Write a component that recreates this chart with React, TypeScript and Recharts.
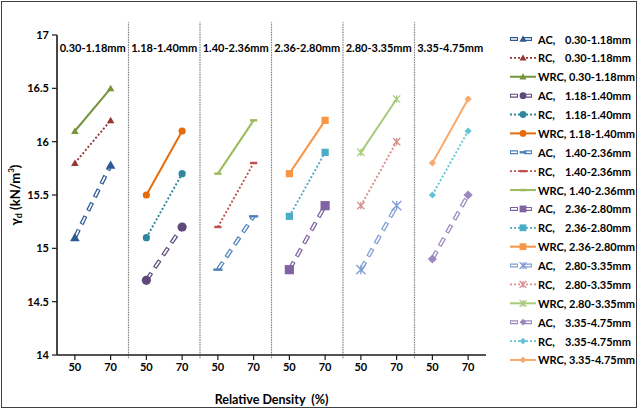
import React from 'react';
import { LineChart, Line, XAxis, YAxis, ReferenceLine, ReferenceArea, Legend, Label } from 'recharts';

const panels = ['0.30-1.18mm', '1.18-1.40mm', '1.40-2.36mm', '2.36-2.80mm', '2.80-3.35mm', '3.35-4.75mm'];
const densities = [50, 70];
const acValues = [[15.1, 15.78], [14.7, 15.2], [14.8, 15.3], [14.8, 15.4], [14.8, 15.4], [14.9, 15.5]];
const rcValues = [[15.8, 16.2], [15.1, 15.7], [15.2, 15.8], [15.3, 15.9], [15.4, 16.0], [15.5, 16.1]];
const wrcValues = [[16.1, 16.5], [15.5, 16.1], [15.7, 16.2], [15.7, 16.2], [15.9, 16.4], [15.8, 16.4]];
const yTicks = [14, 14.5, 15, 15.5, 16, 16.5, 17];

const acColors = ['#2E5A94', '#5F497A', '#4F81BD', '#8064A2', '#7F9CD3', '#9C87BF'];
const rcColors = ['#953735', '#31859C', '#C0504D', '#4BACC6', '#D58F8D', '#66C3D6'];
const wrcColors = ['#77933C', '#E46C0A', '#9BBB59', '#F79646', '#A9CB7D', '#F8A96E'];
const markers = ['triangle', 'circle', 'dash', 'square', 'star', 'diamond'];

const FONT = 'Lato, "Open Sans", sans-serif';

const kinds = [
  { key: 'ac', name: 'AC,', values: acValues, colors: acColors, size: 4.6 },
  { key: 'rc', name: 'RC,', values: rcValues, colors: rcColors, size: 3.6 },
  { key: 'wrc', name: 'WRC,', values: wrcValues, colors: wrcColors, size: 3.6 },
];

const xTicks = panels.flatMap((_, p) => densities.map((_, j) => p * 2 + j));

const data = xTicks.map((i) => {
  const p = Math.floor(i / 2);
  const j = i % 2;
  const row: any = { x: i };
  kinds.forEach((k) => {
    row[`${k.key}${p}`] = k.values[p][j];
  });
  return row;
});

function drawMarker(shape: string, cx: number, cy: number, s: number, color: string, key?: any) {
  switch (shape) {
    case 'triangle':
      return (
        <polygon key={key} points={`${cx},${cy - s} ${cx + s * 1.05},${cy + s * 0.8} ${cx - s * 1.05},${cy + s * 0.8}`} fill={color} />
      );
    case 'circle':
      return <circle key={key} cx={cx} cy={cy} r={s} fill={color} />;
    case 'dash':
      return <rect key={key} x={cx - s} y={cy - 1.2} width={s * 2} height={2.4} fill={color} />;
    case 'square':
      return <rect key={key} x={cx - s} y={cy - s} width={s * 2} height={s * 2} fill={color} />;
    case 'star':
      return (
        <path
          key={key}
          d={`M${cx - s},${cy - s}L${cx + s},${cy + s}M${cx - s},${cy + s}L${cx + s},${cy - s}M${cx},${cy - s}L${cx},${cy + s}`}
          stroke={color}
          strokeWidth={1.3}
          fill="none"
        />
      );
    case 'diamond':
    default:
      return (
        <polygon key={key} points={`${cx},${cy - s} ${cx + s},${cy} ${cx},${cy + s} ${cx - s},${cy}`} fill={color} />
      );
  }
}

const makeDot = (shape: string, color: string, s: number) => (props: any) => {
  const { cx, cy, value, index } = props;
  if (cx == null || cy == null || value == null || Number.isNaN(cy)) return <g key={`e-${index}`} />;
  return drawMarker(shape, cx, cy, s, color, `d-${index}`);
};

const YLabel = (props: any) => {
  const vb = props.viewBox || { x: 17, y: 35, width: 40, height: 320 };
  const cx = vb.x - 2;
  const cy = vb.y + vb.height / 2;
  return (
    <text
      x={cx}
      y={cy}
      transform={`rotate(-90 ${cx} ${cy})`}
      textAnchor="middle"
      dominantBaseline="central"
      fontFamily={FONT}
      fontWeight={700}
      fontSize={13}
      fill="#000"
    >
      <tspan>γ</tspan>
      <tspan dy={3} fontSize={9}>d</tspan>
      <tspan dy={-3}> (kN/m</tspan>
      <tspan dy={-4} fontSize={8}>3</tspan>
      <tspan dy={4}>)</tspan>
    </text>
  );
};

const XLabel = (props: any) => {
  const vb = props.viewBox || { x: 57, y: 355, width: 429, height: 30 };
  return (
    <text
      x={vb.x + vb.width / 2}
      y={vb.y + vb.height + 19}
      textAnchor="middle"
      fontFamily={FONT}
      fontWeight={700}
      fontSize={12.5}
      fill="#000"
    >
      {'Relative Density \u00A0(%)'}
    </text>
  );
};

const LegendContent = () => {
  const rows: any[] = [];
  panels.forEach((panel, p) => {
    kinds.forEach((k, ki) => {
      const i = p * 3 + ki;
      const y = 14 + i * 18.88;
      const color = k.colors[p];
      let line: any;
      if (k.key === 'ac') {
        line = (
          <g>
            <line x1={10} y1={y} x2={36} y2={y} stroke={color} strokeWidth={4} strokeDasharray="8 6" />
            <line x1={10} y1={y} x2={36} y2={y} stroke="#fff" strokeWidth={1.6} strokeDasharray="6 8" strokeDashoffset={-1} />
          </g>
        );
      } else if (k.key === 'rc') {
        line = <line x1={10} y1={y} x2={36} y2={y} stroke={color} strokeWidth={1.8} strokeDasharray="2 2" />;
      } else {
        line = <line x1={10} y1={y} x2={36} y2={y} stroke={color} strokeWidth={2} />;
      }
      rows.push(
        <g key={`lg-${i}`}>
          {line}
          {drawMarker(markers[p], 23, y, 3.4, color)}
          {k.key === 'wrc' ? (
            <text x={38} y={y} dominantBaseline="central" fontFamily={FONT} fontWeight={700} fontSize={11} fill="#000">
              {`${k.name} ${panel}`}
            </text>
          ) : (
            <g>
              <text x={38} y={y} dominantBaseline="central" fontFamily={FONT} fontWeight={700} fontSize={11} fill="#000">
                {k.name}
              </text>
              <text x={65} y={y} dominantBaseline="central" fontFamily={FONT} fontWeight={700} fontSize={11} fill="#000">
                {panel}
              </text>
            </g>
          )}
        </g>
      );
    });
  });
  return (
    <svg width={140} height={350} style={{ display: 'block' }}>
      {rows}
    </svg>
  );
};

export default function App() {
  const series: any[] = [];
  panels.forEach((_, p) => {
    kinds.forEach((k) => {
      const dk = `${k.key}${p}`;
      const color = k.colors[p];
      if (k.key === 'ac') {
        series.push(
          <Line
            key={`${dk}-outer`}
            dataKey={dk}
            type="linear"
            stroke={color}
            strokeWidth={4.2}
            strokeDasharray="9 6"
            dot={false}
            activeDot={false}
            isAnimationActive={false}
          />
        );
        series.push(
          <Line
            key={`${dk}-inner`}
            dataKey={dk}
            type="linear"
            stroke="#fff"
            strokeWidth={1.7}
            strokeDasharray="7 8"
            strokeDashoffset={-1}
            dot={makeDot(markers[p], color, k.size)}
            activeDot={false}
            isAnimationActive={false}
          />
        );
      } else {
        series.push(
          <Line
            key={dk}
            dataKey={dk}
            type="linear"
            stroke={color}
            strokeWidth={k.key === 'rc' ? 1.9 : 2}
            strokeDasharray={k.key === 'rc' ? '2 2' : undefined}
            dot={makeDot(markers[p], color, k.size)}
            activeDot={false}
            isAnimationActive={false}
          />
        );
      }
    });
  });

  return (
    <div style={{ position: 'absolute', left: 0, top: 0, width: 640, height: 410, background: '#fff' }}>
      <LineChart width={640} height={410} data={data} margin={{ top: 35, right: 154, bottom: 25, left: 17 }}>
        {panels.map((panel, p) => (
          <ReferenceArea
            key={`area-${p}`}
            x1={p * 2 - 0.5}
            x2={p * 2 + 1.5}
            y1={14}
            y2={17}
            fill="#fff"
            fillOpacity={0}
            stroke="none"
            ifOverflow="visible"
            label={{ value: panel, position: 'insideTop', offset: 9, fill: '#000', fontSize: 11, fontWeight: 700, fontFamily: FONT }}
          />
        ))}
        {panels.slice(1).map((_, idx) => (
          <ReferenceLine
            key={`sep-${idx}`}
            segment={[
              { x: idx * 2 + 1.5, y: 13.97 },
              { x: idx * 2 + 1.5, y: 17.12 },
            ]}
            stroke="#7f7f7f"
            strokeWidth={1.2}
            strokeDasharray="1.5 1"
            ifOverflow="visible"
          />
        ))}
        <XAxis
          dataKey="x"
          type="number"
          domain={[-0.5, 11.5]}
          ticks={xTicks}
          interval={0}
          tickFormatter={(v: number) => String(densities[v % 2])}
          height={30}
          tickSize={5}
          tickMargin={3}
          axisLine={{ stroke: '#1a1a1a', strokeWidth: 1.6 }}
          tickLine={{ stroke: '#1a1a1a', strokeWidth: 1.2 }}
          tick={{ fill: '#000', fontSize: 11, fontWeight: 700, fontFamily: FONT }}
        >
          <Label content={XLabel} />
        </XAxis>
        <YAxis
          type="number"
          domain={[14, 17]}
          ticks={yTicks}
          interval={0}
          width={40}
          tickSize={5}
          tickMargin={3}
          axisLine={{ stroke: '#1a1a1a', strokeWidth: 1.6 }}
          tickLine={{ stroke: '#1a1a1a', strokeWidth: 1.2 }}
          tick={{ fill: '#000', fontSize: 11, fontWeight: 700, fontFamily: FONT }}
        >
          <Label content={YLabel} />
        </YAxis>
        {series}
        <Legend
          layout="vertical"
          align="center"
          verticalAlign="middle"
          content={LegendContent}
          wrapperStyle={{ left: 500, top: 25, width: 140, height: 350 }}
        />
      </LineChart>
      <div
        style={{
          position: 'absolute',
          left: 1,
          top: 1,
          width: 636,
          height: 407,
          border: '1.5px solid #404040',
          boxSizing: 'border-box',
          pointerEvents: 'none',
        }}
      />
    </div>
  );
}
